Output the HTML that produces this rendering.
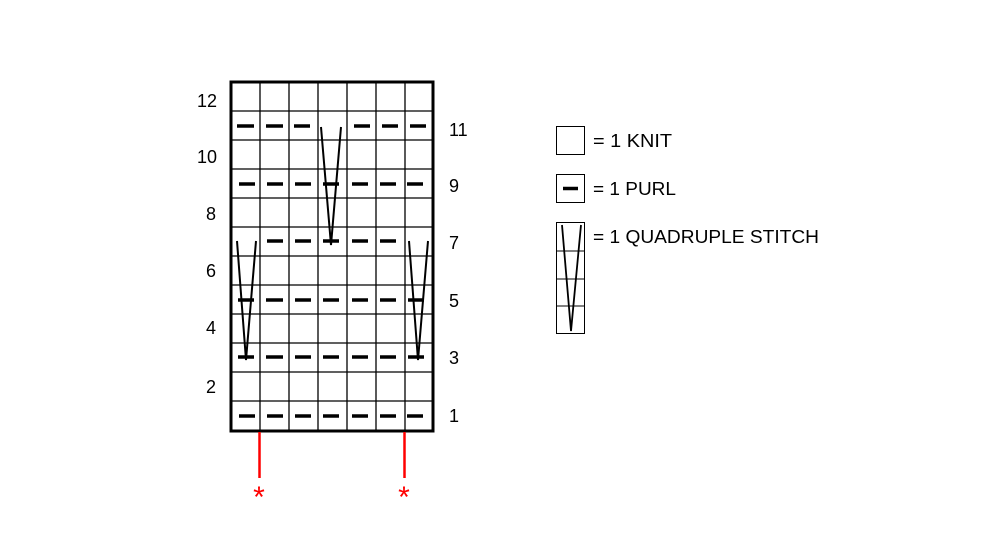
<!DOCTYPE html>
<html><head><style>
html,body{margin:0;padding:0;background:#fff;}
svg{display:block;}
text{font-family:"Liberation Sans",sans-serif;font-size:18px;fill:#000;}
</style></head><body>
<svg width="1000" height="560" viewBox="0 0 1000 560">
<rect width="1000" height="560" fill="#fff"/>
<g stroke="#000" stroke-width="1.3">
<line x1="260" y1="82" x2="260" y2="430"/><line x1="289" y1="82" x2="289" y2="430"/>
<line x1="318" y1="82" x2="318" y2="430"/><line x1="347" y1="82" x2="347" y2="430"/>
<line x1="376" y1="82" x2="376" y2="430"/><line x1="405" y1="82" x2="405" y2="430"/>
<line x1="231" y1="111" x2="434" y2="111"/><line x1="231" y1="140" x2="434" y2="140"/>
<line x1="231" y1="169" x2="434" y2="169"/><line x1="231" y1="198" x2="434" y2="198"/>
<line x1="231" y1="227" x2="434" y2="227"/><line x1="231" y1="256" x2="434" y2="256"/>
<line x1="231" y1="285" x2="434" y2="285"/><line x1="231" y1="314" x2="434" y2="314"/>
<line x1="231" y1="343" x2="434" y2="343"/><line x1="231" y1="372" x2="434" y2="372"/>
<line x1="231" y1="401" x2="434" y2="401"/>
</g>
<rect x="231" y="82" width="202" height="349" fill="none" stroke="#000" stroke-width="3"/>
<g stroke="#000" stroke-width="3.5">
<line x1="237" y1="126" x2="254" y2="126"/><line x1="266" y1="126" x2="283" y2="126"/><line x1="294" y1="126" x2="310" y2="126"/>
<line x1="354" y1="126" x2="370" y2="126"/><line x1="382" y1="126" x2="398" y2="126"/><line x1="410" y1="126" x2="426" y2="126"/>
<line x1="239" y1="184" x2="255" y2="184"/><line x1="267" y1="184" x2="283" y2="184"/><line x1="295" y1="184" x2="311" y2="184"/>
<line x1="323" y1="184" x2="339" y2="184"/><line x1="352" y1="184" x2="368" y2="184"/><line x1="380" y1="184" x2="396" y2="184"/><line x1="407" y1="184" x2="423" y2="184"/>
<line x1="267" y1="241" x2="283" y2="241"/><line x1="295" y1="241" x2="311" y2="241"/><line x1="323" y1="241" x2="339" y2="241"/>
<line x1="352" y1="241" x2="368" y2="241"/><line x1="380" y1="241" x2="396" y2="241"/>
<line x1="238" y1="300" x2="254" y2="300"/><line x1="266" y1="300" x2="283" y2="300"/><line x1="295" y1="300" x2="311" y2="300"/>
<line x1="323" y1="300" x2="339" y2="300"/><line x1="352" y1="300" x2="368" y2="300"/><line x1="380" y1="300" x2="396" y2="300"/><line x1="408" y1="300" x2="424" y2="300"/>
<line x1="238" y1="357" x2="254" y2="357"/><line x1="266" y1="357" x2="283" y2="357"/><line x1="295" y1="357" x2="311" y2="357"/>
<line x1="323" y1="357" x2="339" y2="357"/><line x1="352" y1="357" x2="368" y2="357"/><line x1="380" y1="357" x2="396" y2="357"/><line x1="408" y1="357" x2="424" y2="357"/>
<line x1="239" y1="416" x2="255" y2="416"/><line x1="267" y1="416" x2="283" y2="416"/><line x1="295" y1="416" x2="311" y2="416"/>
<line x1="323" y1="416" x2="339" y2="416"/><line x1="352" y1="416" x2="368" y2="416"/><line x1="380" y1="416" x2="396" y2="416"/><line x1="407" y1="416" x2="423" y2="416"/>
</g>
<g stroke="#000" stroke-width="2" fill="none">
<polyline points="321,127 331,245 341,127"/>
<polyline points="237,241 246,360 256,241"/>
<polyline points="409,241 418,360 428,241"/>
</g>
<text x="197" y="107">12</text><text x="197" y="163">10</text><text x="206" y="220">8</text>
<text x="206" y="277">6</text><text x="206" y="334">4</text><text x="206" y="393">2</text>
<text x="449" y="136">11</text><text x="449" y="192">9</text><text x="449" y="249">7</text>
<text x="449" y="307">5</text><text x="449" y="364">3</text><text x="449" y="422">1</text>
<g stroke="#f00" stroke-width="2.5">
<line x1="259.5" y1="432" x2="259.5" y2="478"/><line x1="404.5" y1="432" x2="404.5" y2="478"/>
</g>
<text x="259" y="507" text-anchor="middle" style="fill:#f00;font-size:30px">*</text>
<text x="404" y="507" text-anchor="middle" style="fill:#f00;font-size:30px">*</text>
<rect x="556.5" y="126.5" width="28" height="28" fill="none" stroke="#000" stroke-width="1"/>
<text x="593" y="147" textLength="79" lengthAdjust="spacingAndGlyphs">= 1 KNIT</text>
<rect x="556.5" y="174.5" width="28" height="28" fill="none" stroke="#000" stroke-width="1"/>
<line x1="563" y1="188.5" x2="578" y2="188.5" stroke="#000" stroke-width="3.5"/>
<text x="593" y="195" textLength="83" lengthAdjust="spacingAndGlyphs">= 1 PURL</text>
<rect x="556.5" y="222.5" width="28" height="111" fill="none" stroke="#000" stroke-width="1"/>
<g stroke="#000" stroke-width="1"><line x1="556" y1="251" x2="585" y2="251"/><line x1="556" y1="279" x2="585" y2="279"/><line x1="556" y1="306" x2="585" y2="306"/></g>
<polyline points="562,225 571,331 581,225" fill="none" stroke="#000" stroke-width="1.8"/>
<text x="593" y="243" textLength="226" lengthAdjust="spacingAndGlyphs">= 1 QUADRUPLE STITCH</text>
</svg>
</body></html>
